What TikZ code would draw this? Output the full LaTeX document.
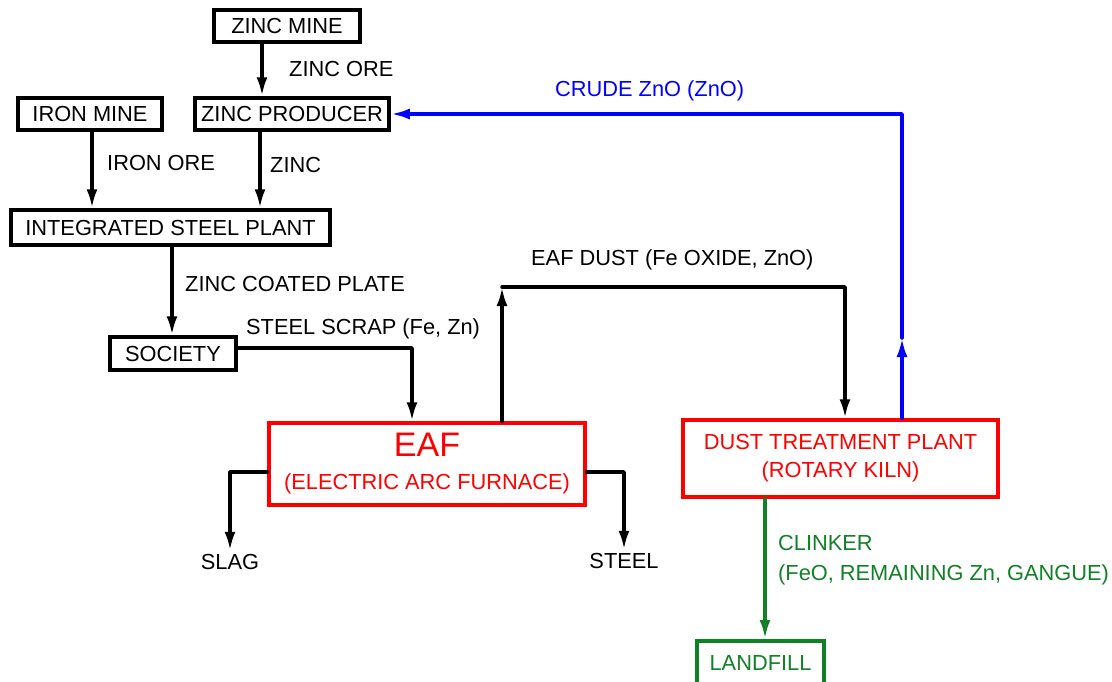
\documentclass[tikz,border=0pt]{standalone}
\usepackage{fontspec}
\setmainfont{Liberation Sans}
\usetikzlibrary{positioning,calc,arrows.meta}
\definecolor{clinkergreen}{RGB}{18,128,38}

\begin{document}
\begin{tikzpicture}[
    x=1pt, y=-1pt,
    font=\fontsize{21.8}{24}\selectfont,
    flow/.style={line width=3.5pt, line join=round, line cap=round, -{Latex[length=19pt,width=11pt]}},
    plainbox/.style={draw, line width=3.5pt, minimum height=32pt, inner xsep=6pt, inner ysep=0pt},
    redbox/.style={draw=red, text=red, line width=3.5pt, align=center},
    flowlabel/.style={anchor=west, inner sep=0pt, text height=15.5pt, text depth=0pt}
]
\useasboundingbox (0,0) rectangle (1112,681);

% Sources and plants
\node[plainbox, minimum width=146pt] (zincmine) at (287,26) {ZINC MINE};
\node[plainbox, minimum width=144pt] (ironmine) at (90,114) {IRON MINE};
\node[plainbox, minimum width=194pt] (zincprod) at (292,114) {ZINC PRODUCER};
\node[plainbox, minimum width=319pt, minimum height=35pt] (isp) at (170.5,227.5) {INTEGRATED STEEL PLANT};
\node[plainbox, minimum width=126pt, minimum height=33pt] (society) at (173,353.5) {SOCIETY};

% Furnace and kiln
\node[redbox, minimum width=316pt, minimum height=82pt] (eaf) at (427,464)
    {{\fontsize{34}{36}\selectfont EAF}\\[9pt](ELECTRIC ARC FURNACE)};
\node[redbox, minimum width=315pt, minimum height=77pt] (dtp) at (840.5,458.5)
    {DUST TREATMENT PLANT\\[4pt](ROTARY KILN)};
\node[draw=clinkergreen, text=clinkergreen, line width=3.5pt, minimum width=127pt,
    minimum height=44pt, anchor=north] (landfill) at (760.5,639) {LANDFILL};

% Products
\node (slag) at (230,562) {SLAG};
\node (steel) at (624,561) {STEEL};

% Flow labels
\node[flowlabel] (lzincore) at (289,69) {ZINC ORE};
\node[flowlabel] (lironore) at (107,163) {IRON ORE};
\node[flowlabel] (lzinc) at (270,165) {ZINC};
\node[flowlabel] (lcoated) at (185,284) {ZINC COATED PLATE};
\node[flowlabel] (lscrap) at (246,327) {STEEL SCRAP (Fe, Zn)};
\node[flowlabel] (ldust) at (531,258) {EAF DUST (Fe OXIDE, ZnO)};
\node[flowlabel, text=blue] (lcrude) at (555,89) {CRUDE ZnO (ZnO)};
\node[anchor=north west, inner sep=0pt, align=left, text=clinkergreen] (lclinker) at (778,535)
    {CLINKER\\[6pt](FeO, REMAINING Zn, GANGUE)};

% Bends
\coordinate (dusttop) at (502,287);
\coordinate (znomid) at (902,338);

% Edges
\draw[flow] ([xshift=-25pt]zincmine.south) -- ([xshift=-25pt]zincmine.south |- zincprod.north);
\draw[flow] ([xshift=2pt]ironmine.south) -- ([xshift=2pt]ironmine.south |- isp.north);
\draw[flow] ([xshift=-32pt]zincprod.south) -- ([xshift=-32pt]zincprod.south |- isp.north);
\draw[flow] ([xshift=1.5pt]isp.south) -- ([xshift=1.5pt]isp.south |- society.north);
\draw[flow] ([yshift=5.5pt]society.east) -| ([xshift=-15pt]eaf.north);
\draw[flow] ([xshift=75pt]eaf.north) -- (dusttop);
\draw[flow] (dusttop) -| ([xshift=4.5pt]dtp.north);
\draw[flow] ([yshift=-8pt]eaf.west) -| (slag.north);
\draw[flow] ([yshift=-8pt]eaf.east) -| (steel.north);
\draw[flow, blue] ([xshift=61.5pt]dtp.north) -- (znomid);
\draw[flow, blue] (znomid) |- (zincprod.east);
\draw[flow, clinkergreen] ([xshift=-75.5pt]dtp.south) -- ([xshift=-75.5pt]dtp.south |- landfill.north);

\end{tikzpicture}
\end{document}
